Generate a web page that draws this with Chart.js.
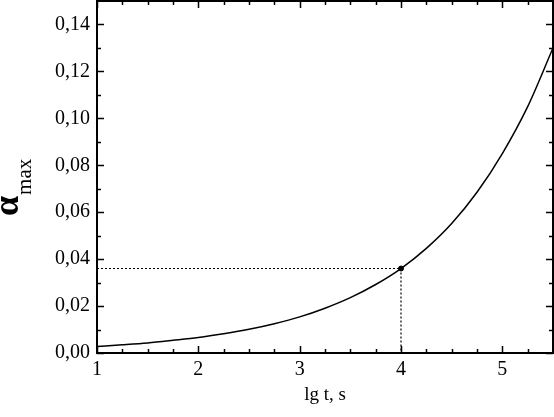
<!DOCTYPE html>
<html>
<head>
<meta charset="utf-8">
<script src="https://cdn.jsdelivr.net/npm/chart.js@4.4.0/dist/chart.umd.min.js"></script>
<style>
  html, body { margin: 0; padding: 0; background: #fff; }
  #wrap { width: 554px; height: 417px; }
</style>
</head>
<body>
<div id="wrap"><canvas id="chart" width="554" height="417"></canvas></div>
<script>
// values
const lgT = [1.00, 1.25, 1.50, 1.75, 2.00, 2.25, 2.50, 2.75, 3.00, 3.25, 3.50, 3.75, 4.00, 4.25, 4.50, 4.75, 5.00, 5.25, 5.50];
const alphaMax = [0.0028, 0.0035, 0.0043, 0.0054, 0.0066, 0.0082, 0.0101, 0.0125, 0.0154, 0.0191, 0.0236, 0.0292, 0.0360, 0.0446, 0.0552, 0.0685, 0.0850, 0.1050, 0.1300];
const markX = 4;
const markY = 0.036;
const xTicks = [1, 2, 3, 4, 5];
const yTicks = [0, 0.02, 0.04, 0.06, 0.08, 0.10, 0.12, 0.14];
const xMinor = [1.25, 1.5, 1.75, 2.25, 2.5, 2.75, 3.25, 3.5, 3.75, 4.25, 4.5, 4.75, 5.25];
const yMinor = [0.01, 0.03, 0.05, 0.07, 0.09, 0.11, 0.13];

const serif = "'Liberation Serif', 'Times New Roman', serif";
const noPad = () => ({ left: 0, top: 0, right: 0, bottom: 0 });

const frame = {
  id: "frame",
  afterDraw(chart) {
    const ctx = chart.ctx;
    const a = chart.chartArea;
    const sx = chart.scales.x, sy = chart.scales.y;
    ctx.save();
    ctx.strokeStyle = "#000";
    ctx.lineWidth = 2;
    ctx.strokeRect(a.left, a.top, a.right - a.left, a.bottom - a.top);

    ctx.lineWidth = 1.5;
    ctx.beginPath();
    const tickX = (v, len) => {
      const px = Math.round(sx.getPixelForValue(v)) + 0.5;
      ctx.moveTo(px, a.bottom); ctx.lineTo(px, a.bottom - len);
      ctx.moveTo(px, a.top); ctx.lineTo(px, a.top + len);
    };
    const tickY = (v, len) => {
      const py = Math.round(sy.getPixelForValue(v)) + 0.5;
      ctx.moveTo(a.left, py); ctx.lineTo(a.left + len, py);
      ctx.moveTo(a.right, py); ctx.lineTo(a.right - len, py);
    };
    xTicks.forEach(v => tickX(v, 7));
    xMinor.forEach(v => tickX(v, 4));
    yTicks.forEach(v => tickY(v, 7));
    yMinor.forEach(v => tickY(v, 4));
    ctx.stroke();

    // axis titles
    ctx.fillStyle = "#000";
    ctx.font = "19px " + serif;
    ctx.textAlign = "center";
    ctx.textBaseline = "alphabetic";
    ctx.fillText("lg t, s", (a.left + a.right) / 2, 400);

    ctx.translate(18, 216);
    ctx.rotate(-Math.PI / 2);
    ctx.textAlign = "left";
    ctx.font = "bold 36px " + serif;
    ctx.fillText("α", 0, 0);
    const w = ctx.measureText("α").width;
    ctx.font = "21px " + serif;
    ctx.fillText("max", w + 1, 13);
    ctx.restore();
  }
};

new Chart(document.getElementById("chart"), {
  type: "scatter",
  data: {
    datasets: [
      {
        label: "curve",
        data: lgT.map((x, i) => ({ x: x, y: alphaMax[i] })),
        showLine: true,
        borderColor: "#000",
        borderWidth: 1.5,
        pointRadius: 0,
        cubicInterpolationMode: "monotone",
        order: 1
      },
      {
        label: "guide",
        data: [{ x: lgT[0], y: markY }, { x: markX, y: markY }, { x: markX, y: 0 }],
        showLine: true,
        borderColor: "#000",
        borderWidth: 1.2,
        borderDash: [2, 2],
        pointRadius: 0,
        order: 2
      },
      {
        label: "mark",
        data: [{ x: markX, y: markY }],
        backgroundColor: "#000",
        borderColor: "#000",
        pointRadius: 2.5,
        order: 0
      }
    ]
  },
  options: {
    responsive: false,
    animation: false,
    layout: { autoPadding: false, padding: { top: 1, right: 1, left: 0, bottom: 0 } },
    plugins: { legend: { display: false }, tooltip: { enabled: false } },
    scales: {
      x: {
        type: "linear",
        min: 1,
        max: 5.5,
        afterBuildTicks: s => { s.ticks = xTicks.map(v => ({ value: v })); },
        afterFit: s => { s.height = 64; s.paddingLeft = 0; s.paddingRight = 0; s.getPadding = noPad; },
        grid: { display: false, drawTicks: false },
        border: { display: false },
        ticks: {
          color: "#000",
          font: { family: serif, size: 20 },
          padding: 5,
          maxRotation: 0,
          callback: v => String(v)
        }
      },
      y: {
        type: "linear",
        min: 0,
        max: 0.15,
        afterBuildTicks: s => { s.ticks = yTicks.map(v => ({ value: v })); },
        afterFit: s => { s.width = 97; s.paddingTop = 0; s.paddingBottom = 0; s.getPadding = noPad; },
        grid: { display: false, drawTicks: false },
        border: { display: false },
        ticks: {
          color: "#000",
          font: { family: serif, size: 20 },
          padding: 7,
          callback: v => v.toFixed(2).replace(".", ",")
        }
      }
    }
  },
  plugins: [frame]
});
</script>
</body>
</html>
